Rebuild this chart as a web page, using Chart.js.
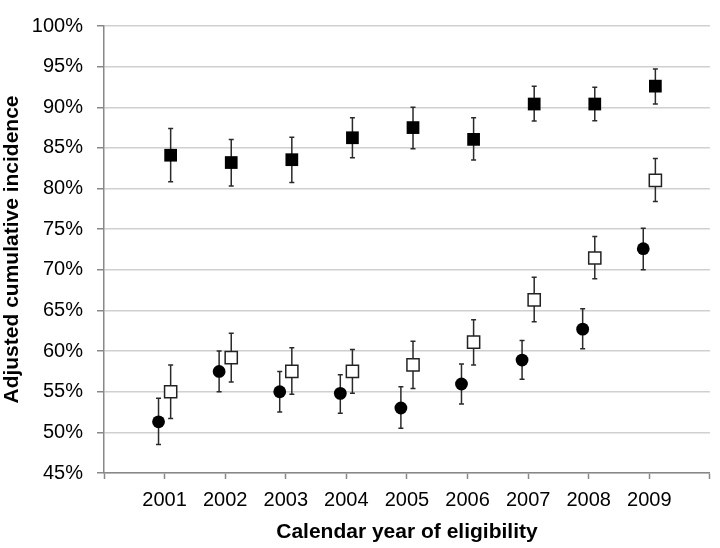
<!DOCTYPE html>
<html>
<head>
<meta charset="utf-8">
<script src="https://cdn.jsdelivr.net/npm/chart.js@4/dist/chart.umd.min.js"></script>
<style>
  html, body { margin: 0; padding: 0; background: #ffffff; }
  #wrap { width: 720px; height: 548px; }
</style>
</head>
<body>
<div id="wrap"><canvas id="c" width="720" height="548"></canvas></div>
<script>
// ---- data ----
const years = [2001, 2002, 2003, 2004, 2005, 2006, 2007, 2008, 2009];
const tickLabels = ['2001', '2002', '2003', '2004', '2005', '2006', '2007', '2008', '2009'];

const filledSquare     = [84.1, 83.2, 83.55, 86.25, 87.5, 86.05, 90.4, 90.4, 92.6];
const filledSquareLow  = [80.85, 80.3, 80.75, 83.8, 84.9, 83.5, 88.3, 88.35, 90.4];
const filledSquareHigh = [87.4, 86.05, 86.3, 88.7, 90.0, 88.7, 92.6, 92.45, 94.7];

const openSquare     = [55.0, 59.2, 57.5, 57.5, 58.3, 61.1, 66.3, 71.45, 81.0];
const openSquareLow  = [51.7, 56.2, 54.7, 54.8, 55.4, 58.3, 63.6, 68.9, 78.4];
const openSquareHigh = [58.3, 62.2, 60.4, 60.2, 61.2, 63.85, 69.1, 74.1, 83.7];

const circle     = [51.3, 57.5, 55.0, 54.8, 53.0, 55.95, 58.9, 62.7, 72.6];
const circleLow  = [48.5, 55.0, 52.5, 52.35, 50.5, 53.5, 56.55, 60.3, 70.0];
const circleHigh = [54.2, 60.0, 57.5, 57.1, 55.6, 58.4, 61.3, 65.2, 75.1];

const yTicks = [45, 50, 55, 60, 65, 70, 75, 80, 85, 90, 95, 100];

// side-by-side shift of the two groups within a year (in years)
const groupShift = 0.1;

function pts(vals, shift) {
  return years.map((yr, i) => ({ x: yr + shift, y: vals[i] }));
}

const errorBarPlugin = {
  id: 'errorBars',
  beforeDatasetsDraw(chart) {
    const ctx = chart.ctx;
    const xs = chart.scales.x, ys = chart.scales.y;
    ctx.save();
    ctx.strokeStyle = '#2a2a2a';
    ctx.lineWidth = 1.5;
    chart.data.datasets.forEach((ds, di) => {
      if (!ds.errLow) return;
      ds.data.forEach((p, i) => {
        const px = xs.getPixelForValue(p.x);
        const lo = ys.getPixelForValue(ds.errLow[i]);
        const hi = ys.getPixelForValue(ds.errHigh[i]);
        const cap = 2.5;
        ctx.beginPath();
        ctx.moveTo(px, lo); ctx.lineTo(px, hi);
        ctx.moveTo(px - cap, lo); ctx.lineTo(px + cap, lo);
        ctx.moveTo(px - cap, hi); ctx.lineTo(px + cap, hi);
        ctx.stroke();
      });
    });
    ctx.restore();
  }
};

const FONT = 'Liberation Sans, Arial, Helvetica, sans-serif';

new Chart(document.getElementById('c'), {
  type: 'scatter',
  data: {
    datasets: [
      {
        label: 'Filled squares',
        data: pts(filledSquare, groupShift),
        errLow: filledSquareLow, errHigh: filledSquareHigh,
        pointStyle: 'rect', pointRadius: 9, pointHoverRadius: 9,
        backgroundColor: '#000000', borderColor: '#000000', borderWidth: 0
      },
      {
        label: 'Open squares',
        data: pts(openSquare, groupShift),
        errLow: openSquareLow, errHigh: openSquareHigh,
        pointStyle: 'rect', pointRadius: 8.6, pointHoverRadius: 8.6,
        backgroundColor: '#ffffff', borderColor: '#222222', borderWidth: 1.5
      },
      {
        label: 'Circles',
        data: pts(circle, -groupShift),
        errLow: circleLow, errHigh: circleHigh,
        pointStyle: 'circle', pointRadius: 6.4, pointHoverRadius: 6.4,
        backgroundColor: '#000000', borderColor: '#000000', borderWidth: 0
      }
    ]
  },
  options: {
    responsive: false,
    animation: false,
    events: [],
    layout: { padding: { top: 13, right: 5, left: 0, bottom: 0 } },
    plugins: {
      legend: { display: false },
      tooltip: { enabled: false }
    },
    scales: {
      x: {
        type: 'linear',
        min: 2000, max: 2010,
        afterFit(s) { s.height = 75; },
        afterBuildTicks(s) {
          s.ticks = [2000].concat(years, [2010]).map(v => ({ value: v }));
        },
        ticks: {
          autoSkip: false,
          maxRotation: 0,
          padding: 9,
          color: '#000000',
          font: { family: FONT, size: 20 },
          callback(v) {
            const i = years.indexOf(v);
            return i >= 0 ? tickLabels[i] : '';
          }
        },
        grid: { drawOnChartArea: false, drawTicks: true, tickLength: 6, tickColor: '#888888', tickWidth: 1.5 },
        border: { color: '#888888', width: 1.5 },
        title: {
          display: true,
          text: 'Calendar year of eligibility',
          color: '#000000',
          font: { family: FONT, size: 21, weight: 'bold' },
          padding: { top: 0, bottom: 3 }
        }
      },
      y: {
        min: 45, max: 100,
        afterFit(s) { s.width = 104; },
        afterBuildTicks(s) { s.ticks = yTicks.map(v => ({ value: v })); },
        ticks: {
          padding: 14,
          color: '#000000',
          font: { family: FONT, size: 20 },
          callback(v) { return v + '%'; }
        },
        grid: { color: '#d0d0d0', lineWidth: 1.5, tickLength: 7, tickColor: '#888888', tickWidth: 1.5 },
        border: { color: '#888888', width: 1.5 },
        title: {
          display: true,
          text: 'Adjusted cumulative incidence',
          color: '#000000',
          font: { family: FONT, size: 21, weight: 'bold' },
          padding: { top: 0, bottom: 0 }
        }
      }
    }
  },
  plugins: [errorBarPlugin]
});
</script>
</body>
</html>
